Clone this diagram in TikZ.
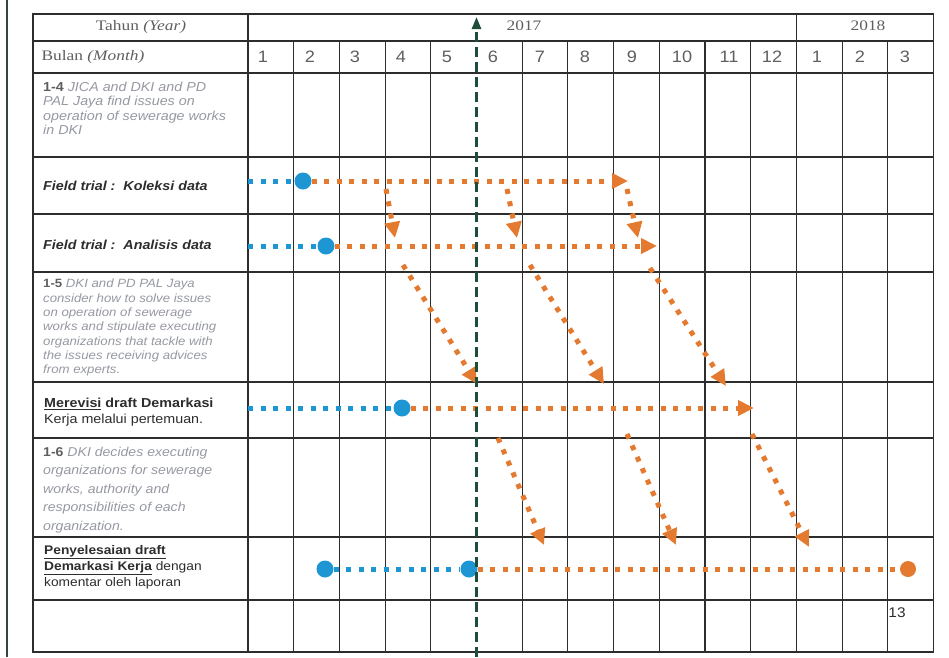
\documentclass[tikz,border=0pt]{standalone}
\usepackage{fontspec}
\setmainfont{Liberation Serif}[FakeStretch=1.2]
\setsansfont{Liberation Sans}[FakeStretch=1.1]
\usetikzlibrary{arrows.meta}

\definecolor{planBlue}{RGB}{30,150,212}
\definecolor{planOrange}{RGB}{228,122,48}
\definecolor{planGreen}{RGB}{28,78,58}
\definecolor{planGrid}{RGB}{45,45,45}
\definecolor{planHead}{RGB}{95,95,95}
\definecolor{planNote}{RGB}{150,152,162}
\definecolor{planText}{RGB}{45,45,45}

\tikzset{
  bluedash/.style={draw=planBlue, line width=5pt, dash pattern=on 5pt off 7.5pt},
  orangedash/.style={draw=planOrange, line width=5pt, dash pattern=on 5pt off 7.5pt},
  orangearrow/.style={orangedash, -{Triangle[length=16pt,width=15pt]}},
  bluedot/.style={circle, fill=planBlue, minimum size=17pt, inner sep=0pt},
  orangedot/.style={circle, fill=planOrange, minimum size=16pt, inner sep=0pt},
  monthnum/.style={font=\sffamily\fontsize{16.5}{16.5}\selectfont, text=planHead},
  headtext/.style={font=\fontsize{14.5}{14.5}\selectfont, text=planHead},
  notetext/.style={anchor=north west, inner sep=0pt, align=left, text=planNote,
    font=\sffamily\itshape\fontsize{12}{14.3}\selectfont},
  fieldtext/.style={anchor=west, inner sep=0pt, text=planText,
    font=\sffamily\bfseries\itshape\fontsize{13}{13}\selectfont},
  tasktext/.style={anchor=north west, inner sep=0pt, align=left, text=planText,
    font=\sffamily\fontsize{13}{16}\selectfont},
}

\begin{document}
\begin{tikzpicture}[x=1pt, y=-1pt]
% page size of the scanned schedule
\useasboundingbox (0,0) rectangle (949,657);
\providecommand{\planGridWidth}{1.1pt}
\providecommand{\planFrameWidth}{1.4pt}
% Left page margin line
\draw[line width=2.5pt, draw={rgb,255:red,50;green,70;blue,60}] (7,0) -- (7,657);
% Grid and outline
\begin{scope}[draw=planGrid, line width=\planGridWidth]
  \draw[line width=\planFrameWidth] (33,14) rectangle (933.5,652);
  % Vertical lines
  \draw (248,14) -- (248,652);
  \draw (293.7,41) -- (293.7,652);
  \draw (339.4,41) -- (339.4,652);
  \draw (385.1,41) -- (385.1,652);
  \draw (430.8,41) -- (430.8,652);
  \draw (522.2,41) -- (522.2,652);
  \draw (567.9,41) -- (567.9,652);
  \draw (613.6,41) -- (613.6,652);
  \draw (659.3,41) -- (659.3,652);
  \draw (705.0,41) -- (705.0,652);
  \draw (750.7,41) -- (750.7,652);
  \draw (796.4,14) -- (796.4,652);
  \draw (842.1,41) -- (842.1,652);
  \draw (887.8,41) -- (887.8,652);
  % Horizontal lines
  \draw (33,41) -- (933.5,41);
  \draw (33,73) -- (933.5,73);
  \draw (33,157) -- (933.5,157);
  \draw (33,214) -- (933.5,214);
  \draw (33,272) -- (933.5,272);
  \draw (33,382) -- (933.5,382);
  \draw (33,438) -- (933.5,438);
  \draw (33,537) -- (933.5,537);
  \draw (33,600) -- (933.5,600);
\end{scope}
% Headers
\node[headtext] (yearHead) at (141,27) {Tahun \textit{(Year)}};
\node[headtext, anchor=west] (monthHead) at (38,57) {Bulan \textit{(Month)}};
\node[headtext] (yearA) at (524,26) {2017};
\node[headtext] (yearB) at (868,26) {2018};
% Month numbers
\node[monthnum] (monA) at (263,57) {1};
\node[monthnum] (monB) at (310,57) {2};
\node[monthnum] (monC) at (355,57) {3};
\node[monthnum] (monD) at (401,57) {4};
\node[monthnum] (monE) at (447,57) {5};
\node[monthnum] (monF) at (493,57) {6};
\node[monthnum] (monG) at (540,57) {7};
\node[monthnum] (monH) at (585,57) {8};
\node[monthnum] (monI) at (632,57) {9};
\node[monthnum] (monJ) at (682,57) {10};
\node[monthnum] (monK) at (729,57) {11};
\node[monthnum] (monL) at (772,57) {12};
\node[monthnum] (monM) at (817,57) {1};
\node[monthnum] (monN) at (860,57) {2};
\node[monthnum] (monO) at (905,57) {3};
% Activity texts
\node[notetext, font=\sffamily\itshape\fontsize{13}{14.3}\selectfont] (actFind) at (43,82)
  {{\bfseries\upshape\color{planHead}1-4} JICA and DKI and PD\\PAL Jaya find issues on\\operation of sewerage works\\in DKI};
\node[fieldtext] (kolText) at (43,186) {Field trial :\ \ Koleksi data};
\node[fieldtext] (anaText) at (43,245) {Field trial :\ \ Analisis data};
\node[notetext] (actSolve) at (43,279)
  {{\bfseries\upshape\color{planHead}1-5} DKI and PD PAL Jaya\\consider how to solve issues\\on operation of sewerage\\works and stipulate executing\\organizations that tackle with\\the issues receiving advices\\from experts.};
\node[tasktext] (revText) at (44,398)
  {\textbf{\underline{Merevisi} draft Demarkasi}\\Kerja melalui pertemuan.};
\node[notetext, font=\sffamily\itshape\fontsize{12.8}{18.5}\selectfont] (actDecide) at (43,447)
  {{\bfseries\upshape\color{planHead}1-6} DKI decides executing\\organizations for sewerage\\works, authority and\\responsibilities of each\\organization.};
\node[tasktext, font=\sffamily\fontsize{12.5}{16.2}\selectfont] (finText) at (44,545)
  {\textbf{\underline{Penyelesaian draft}}\\\textbf{\underline{Demarkasi Kerja}} dengan\\komentar oleh laporan};
\node[font=\sffamily\fontsize{14}{14}\selectfont, text=planText] (pageNum) at (897,613) {13};
% Field trial: Koleksi data
\coordinate (kolIn) at (248,181);
\node[bluedot] (kolDot) at (303,181) {};
\coordinate (kolEnd) at (628,181);
\draw[bluedash] (kolIn) -- (kolDot);
\draw[orangearrow] (kolDot) -- (kolEnd);
% Field trial: Analisis data
\coordinate (anaIn) at (248,246);
\node[bluedot] (anaDot) at (326,246) {};
\coordinate (anaEnd) at (657,246);
\draw[bluedash] (anaIn) -- (anaDot);
\draw[orangearrow] (anaDot) -- (anaEnd);
% Koleksi to Analisis
\coordinate (kaA) at (386,189);  \coordinate (kaAe) at (395,238);
\coordinate (kaB) at (507,189);  \coordinate (kaBe) at (517,238);
\coordinate (kaC) at (627,189);  \coordinate (kaCe) at (638,238);
\draw[orangearrow] (kaA) -- (kaAe);
\draw[orangearrow] (kaB) -- (kaBe);
\draw[orangearrow] (kaC) -- (kaCe);
% Analisis to Merevisi
\coordinate (arA) at (403,265);  \coordinate (arAe) at (477,384);
\coordinate (arB) at (530,265);  \coordinate (arBe) at (604,384);
\coordinate (arC) at (650,268);  \coordinate (arCe) at (726,386);
\draw[orangearrow] (arA) -- (arAe);
\draw[orangearrow] (arB) -- (arBe);
\draw[orangearrow] (arC) -- (arCe);
% Merevisi draft
\coordinate (revIn) at (248,408);
\node[bluedot] (revDot) at (402,408) {};
\coordinate (revEnd) at (754,408);
\draw[bluedash] (revIn) -- (revDot);
\draw[orangearrow] (revDot) -- (revEnd);
% Merevisi to Penyelesaian
\coordinate (rfA) at (498,438);  \coordinate (rfAe) at (544,545);
\coordinate (rfB) at (627,434);  \coordinate (rfBe) at (676,545);
\coordinate (rfC) at (752,434);  \coordinate (rfCe) at (809,547);
\draw[orangearrow] (rfA) -- (rfAe);
\draw[orangearrow] (rfB) -- (rfBe);
\draw[orangearrow] (rfC) -- (rfCe);
% Penyelesaian draft
\node[bluedot] (finDotA) at (325,569) {};
\node[bluedot] (finDotB) at (469,569) {};
\node[orangedot] (finEnd) at (908,569) {};
\draw[bluedash] (finDotA) -- (finDotB);
\draw[orangedash] (finDotB) -- (finEnd);
% Current month marker
\coordinate (nowBottom) at (476.5,657);
\coordinate (nowTop) at (476.5,17);
\draw[draw=planGreen, line width=2.5pt, dash pattern=on 10pt off 5pt,
  -{Triangle[length=12pt,width=9pt]}] (nowBottom) -- (nowTop);
\end{tikzpicture}
\end{document}
